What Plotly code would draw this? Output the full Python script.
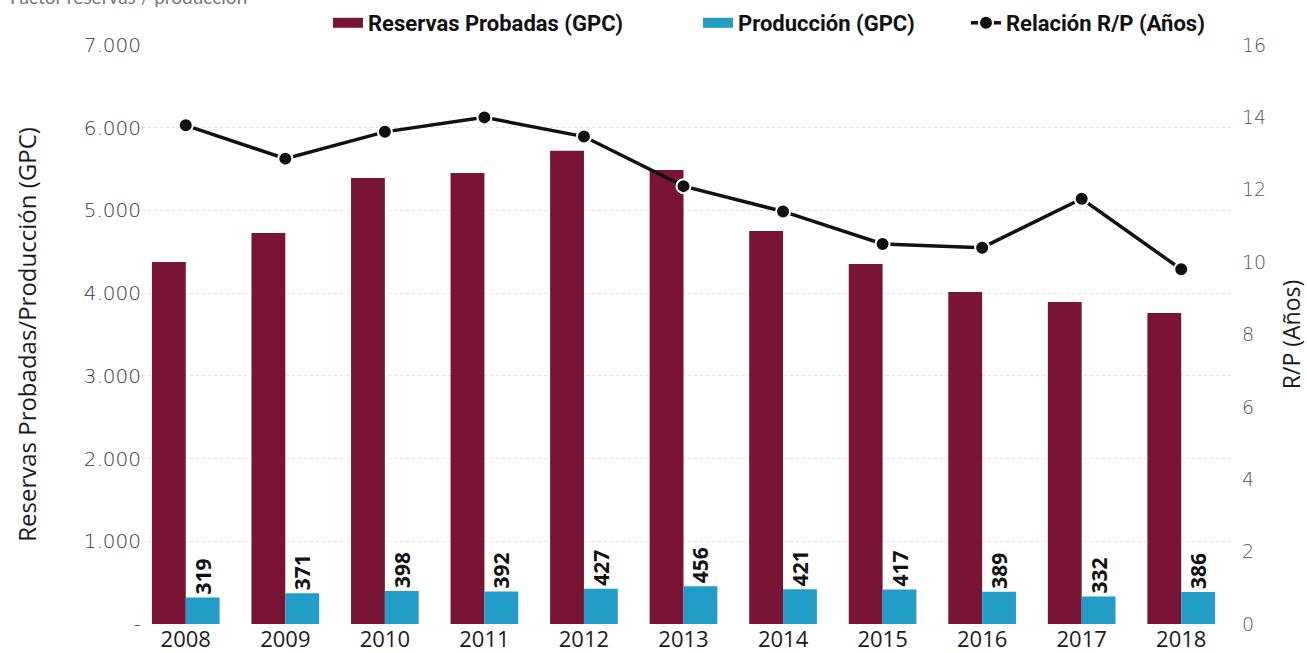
import plotly.graph_objects as go

years = ["2008", "2009", "2010", "2011", "2012", "2013", "2014", "2015", "2016", "2017", "2018"]
reservas = [4377, 4728, 5393, 5453, 5720, 5490, 4752, 4353, 4015, 3894, 3760]
produccion = [319, 371, 398, 392, 427, 456, 421, 417, 389, 332, 386]
relacion_rp = [13.78, 12.86, 13.6, 14.0, 13.47, 12.1, 11.4, 10.5, 10.4, 11.75, 9.8]

left_tickvals = [0, 1000, 2000, 3000, 4000, 5000, 6000, 7000]
left_ticktext = ["-", "1.000", "2.000", "3.000", "4.000", "5.000", "6.000", "7.000"]
right_tickvals = [0, 2, 4, 6, 8, 10, 12, 14, 16]

MAROON = "#7a1434"
BLUE = "#229dc8"
TICK = "#33374f"

L, R, T, B = 136, 76, 45, 29
PW = 1307 - L - R
PH = 653 - T - B

fig = go.Figure()
fig.add_trace(go.Bar(
    x=years, y=reservas, name="Reservas Probadas (GPC)",
    marker=dict(color=MAROON, line=dict(width=0)), showlegend=False,
))
fig.add_trace(go.Bar(
    x=years, y=produccion, name="Producción (GPC)",
    marker=dict(color=BLUE, line=dict(width=0)),
    text=[str(v) for v in produccion], textposition="outside", textangle=-90,
    textfont=dict(family="Open Sans", size=21, color="#111111", weight="bold"),
    constraintext="none", cliponaxis=False, showlegend=False,
))
fig.add_trace(go.Scatter(
    x=years, y=relacion_rp, name="Relación R/P (Años)", yaxis="y2",
    mode="lines+markers",
    line=dict(color="#111111", width=3.5),
    marker=dict(color="#111111", size=14, line=dict(color="white", width=2)),
    legend="legend3",
))
# legend swatches for the bar series
fig.add_trace(go.Scatter(
    x=[None], y=[None], mode="lines", name="Reservas Probadas (GPC)",
    line=dict(color=MAROON, width=16), legend="legend", hoverinfo="skip",
))
fig.add_trace(go.Scatter(
    x=[None], y=[None], mode="lines", name="Producción (GPC)",
    line=dict(color=BLUE, width=16), legend="legend2", hoverinfo="skip",
))

legend_font = dict(family="Roboto", size=22, color="#111111", weight="bold")
LEG_Y = 1 + (T - 23) / PH
common_leg = dict(orientation="h", xanchor="left", yanchor="middle", y=LEG_Y,
                  yref="paper", bgcolor="rgba(0,0,0,0)", font=legend_font,
                  itemwidth=30)

fig.update_layout(
    width=1307, height=653,
    margin=dict(l=L, r=R, t=T, b=B, autoexpand=False),
    paper_bgcolor="white", plot_bgcolor="white",
    barmode="group", bargap=0.32, bargroupgap=0,
    separators=",.",
    showlegend=True,
    legend=dict(common_leg, x=(328 - L) / PW),
    legend2=dict(common_leg, x=(698 - L) / PW),
    legend3=dict(common_leg, x=(966 - L) / PW),
    xaxis=dict(
        type="category", range=[-0.5, 10.5], automargin=False,
        tickfont=dict(family="Open Sans", size=22, color="#1a1a1a"),
        showgrid=False, showline=False, ticks="",
    ),
    yaxis=dict(
        range=[0, 7000], tickvals=left_tickvals, ticktext=left_ticktext,
        automargin=False, ticklabelstandoff=-6,
        tickfont=dict(family="DejaVu Sans", size=20, color=TICK, weight=300),
        showgrid=True, gridcolor="#e2e2e2", griddash="dot", gridwidth=1,
        zeroline=False, showline=False, ticks="",
        title=dict(text="Reservas Probadas/Producción (GPC)", standoff=40,
                   font=dict(family="Open Sans", size=24, color="#1a1a1a")),
    ),
    yaxis2=dict(
        range=[0, 16], tickvals=right_tickvals, overlaying="y", side="right",
        automargin=False, ticklabelstandoff=10,
        tickfont=dict(family="DejaVu Sans", size=19, color="#555555", weight=300),
        showgrid=False, zeroline=False, showline=False, ticks="",
        title=dict(text="R/P (Años)", standoff=24,
                   font=dict(family="Open Sans", size=23, color="#1a1a1a")),
    ),
    annotations=[dict(
        text="Factor reservas / producción", xref="paper", yref="paper",
        x=(8 - L) / PW, y=1 + (T - (-4)) / PH, xanchor="left", yanchor="middle",
        showarrow=False, font=dict(family="Lato", size=19, color="#777777"),
    )],
)

fig.write_html("out.html", config={"displayModeBar": False},
               post_script="document.body.style.margin='0';")
